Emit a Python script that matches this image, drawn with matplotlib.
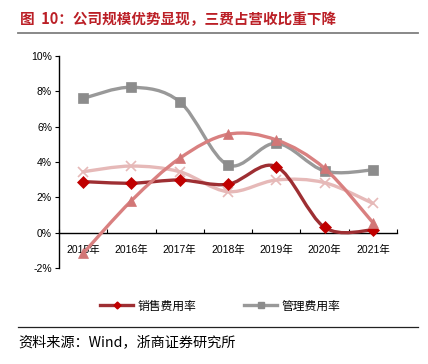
import matplotlib
matplotlib.use("Agg")
import matplotlib.pyplot as plt
import numpy as np
from matplotlib.path import Path
from matplotlib.patches import PathPatch
from matplotlib.lines import Line2D

plt.rcParams['font.family'] = ['Liberation Sans', 'Noto Sans CJK SC', 'DejaVu Sans']

years = ["2015年", "2016年", "2017年", "2018年", "2019年", "2020年", "2021年"]
sales = [2.89, 2.80, 2.98, 2.74, 3.74, 0.30, 0.15]
admin = [7.60, 8.23, 7.41, 3.83, 5.06, 3.49, 3.55]
rnd = [-1.17, 1.81, 4.21, 5.57, 5.25, 3.64, 0.57]
finance = [3.45, 3.77, 3.45, 2.32, 2.98, 2.83, 1.66]
yticks = [-2, 0, 2, 4, 6, 8, 10]


def smooth_path(xs, ys):
    # Excel-like smoothed line: cubic Bezier segments with Catmull-Rom handles
    pts = np.column_stack([xs, ys]).astype(float)
    n = len(pts)
    verts = [pts[0]]
    codes = [Path.MOVETO]
    for i in range(n - 1):
        p0 = pts[i - 1] if i > 0 else pts[i]
        p1, p2 = pts[i], pts[i + 1]
        p3 = pts[i + 2] if i + 2 < n else pts[i + 1]
        c1 = p1 + (p2 - p0) / 6.0
        c2 = p2 - (p3 - p1) / 6.0
        verts += [c1, c2, p2]
        codes += [Path.CURVE4] * 3
    return Path(verts, codes)


fig = plt.figure(figsize=(4.28, 3.64), dpi=100)
ax = fig.add_axes([59 / 428, 1 - 268 / 364, 338 / 428, 212 / 364])
x = np.arange(len(years))

series = [
    (admin, "#999999", "#8c8c8c", "s", 7.5, 1),
    (finance, "#e6b9b8", "#e6b9b8", "x", 7, 2),
    (sales, "#9e2f33", "#c00000", "D", 6, 3),
    (rnd, "#d98080", "#d27676", "^", 7.5, 4),
]
for vals, lc, mc, mk, ms, z in series:
    ax.add_patch(PathPatch(smooth_path(x, vals), fill=False, edgecolor=lc,
                           linewidth=2.4, zorder=z, capstyle="round"))
    ax.plot(x, vals, linestyle="none", marker=mk, color=mc, markersize=ms,
            markeredgewidth=1.2 if mk == "x" else 0.5, zorder=z + 0.5)

ax.set_xlim(-0.5, 6.5)
ax.set_ylim(-2, 10)
ax.set_yticks(yticks)
ax.set_yticklabels([f"{v}%" for v in yticks], fontsize=7.5)
ax.spines["top"].set_visible(False)
ax.spines["right"].set_visible(False)
ax.spines["bottom"].set_position(("data", 0))
ax.spines["left"].set_linewidth(1.0)
ax.spines["bottom"].set_linewidth(1.0)
ax.set_xticks(np.arange(-0.5, 7, 1.0))
ax.set_xticklabels([])
ax.tick_params(axis="x", direction="in", length=3)
ax.tick_params(axis="y", direction="out", length=3, pad=2)
for i, lab in enumerate(years):
    ax.annotate(lab, (i, 0), xytext=(0, -17), textcoords="offset pixels",
                ha="center", va="center", fontsize=7.5)

# title
fig.text(20 / 428, 1 - 19.5 / 364, "图  10：公司规模优势显现，三费占营收比重下降",
         color="#bb1f26", fontsize=10.5, fontweight="bold", va="center", ha="left",
         family=["Noto Sans CJK SC", "DejaVu Sans"])
fig.add_artist(Line2D([18 / 428, 418 / 428], [1 - 33 / 364] * 2, color="#7f7f7f", lw=1.3))

# legend
handles = [
    Line2D([], [], color="#9e2f33", lw=2.4, marker="D", markersize=3.5,
           markerfacecolor="#c00000", markeredgecolor="#c00000"),
    Line2D([], [], color="#999999", lw=2.4, marker="s", markersize=5,
           markerfacecolor="#8c8c8c", markeredgecolor="#8c8c8c"),
]
fig.legend(handles, ["销售费用率", "管理费用率"], loc="center",
           bbox_to_anchor=(0.515, 1 - 306 / 364), ncol=2, frameon=False,
           handlelength=2.8, handletextpad=0.4, columnspacing=4.0,
           prop={"family": ["Noto Sans CJK SC"], "size": 8.5})

fig.add_artist(Line2D([18 / 428, 418 / 428], [1 - 327 / 364] * 2, color="#222222", lw=0.9))
fig.text(18 / 428, 1 - 342 / 364, "资料来源：Wind，浙商证券研究所", fontsize=10.2,
         va="center", ha="left", family=["Noto Sans CJK SC", "DejaVu Sans"])

fig.savefig("out.png", dpi=100)
